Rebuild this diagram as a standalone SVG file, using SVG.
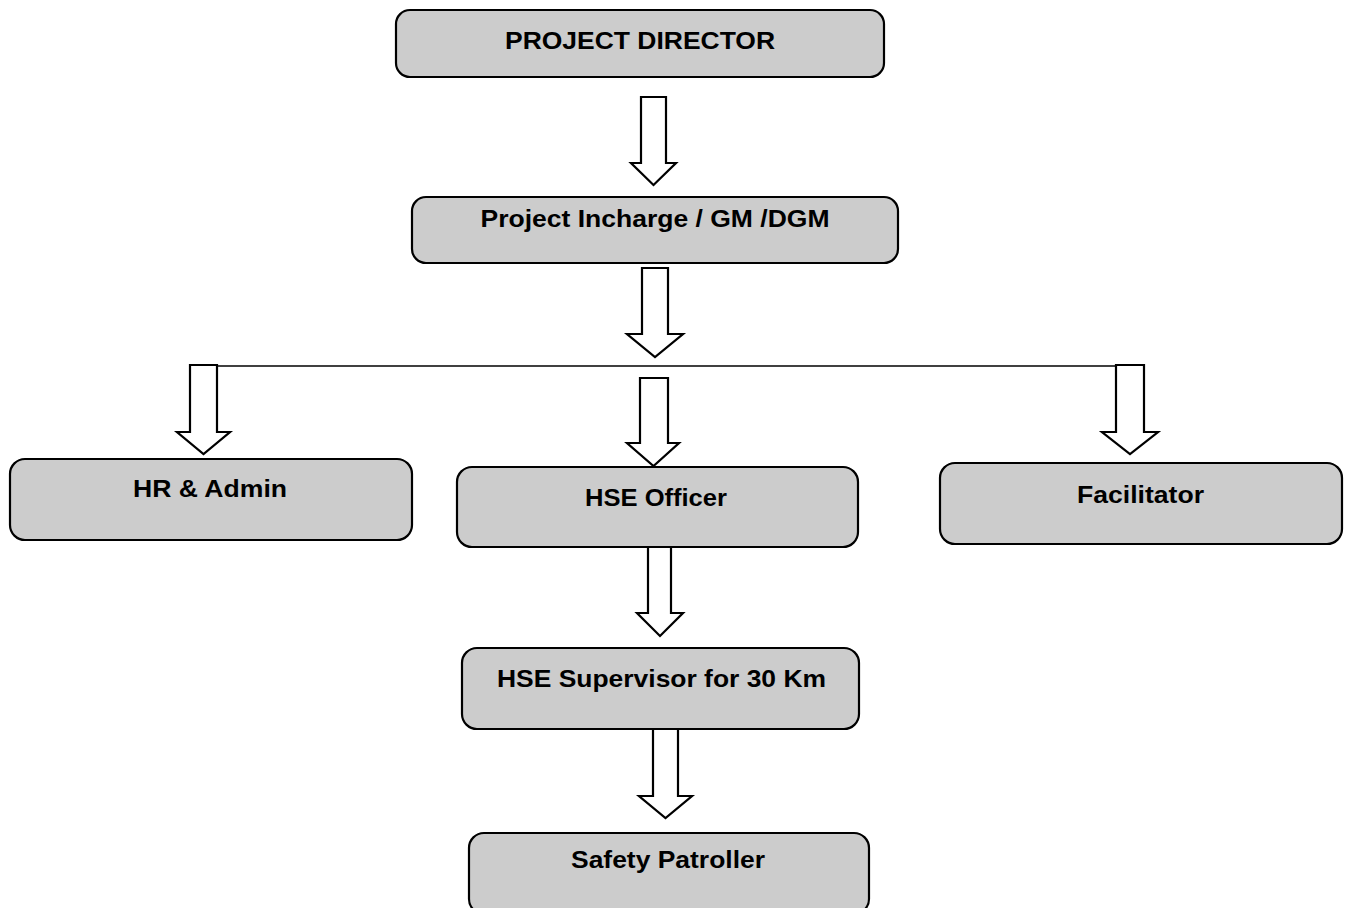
<svg xmlns="http://www.w3.org/2000/svg" width="1348" height="908" viewBox="0 0 1348 908">
<style>
.box{fill:#cccccc;stroke:#000;stroke-width:2.2}
.lbl{font-family:"Liberation Sans",Arial,sans-serif;font-weight:bold;font-size:23px;fill:#000;text-anchor:middle}
.arr{fill:#fff;stroke:#000;stroke-width:2.2;stroke-linejoin:miter}
.ln{stroke:#000;stroke-width:1.6;fill:none}
</style>
<rect width="1348" height="908" fill="#fff"/>
<g id="connectors">
<path class="arr" d="M641,97 H666 V163 H676 L653.5,185 L631,163 H641 Z"/>
<path class="arr" d="M642,268 H668 V334 H683 L655,357 L627,334 H642 Z"/>
<line class="ln" x1="217" y1="366" x2="1116" y2="366"/>
<path class="arr" d="M190,365 H217 V432 H230 L203.5,454 L177,432 H190 Z"/>
<path class="arr" d="M640,378 H668 V443 H679 L653.5,466 L627,443 H640 Z"/>
<path class="arr" d="M1116,365 H1144 V432 H1158 L1130,454 L1102,432 H1116 Z"/>
<path class="arr" d="M648,547 H671 V613 H683 L660,636 L637,613 H648 Z"/>
<path class="arr" d="M653,729 H678 V796 H692 L665.5,818 L639,796 H653 Z"/>
</g>
<g id="project-director">
<rect class="box" x="396" y="10" width="488" height="67" rx="14"/>
<text class="lbl" x="640" y="49" textLength="270" lengthAdjust="spacingAndGlyphs">PROJECT DIRECTOR</text>
</g>
<g id="project-incharge">
<rect class="box" x="412" y="197" width="486" height="66" rx="14"/>
<text class="lbl" x="655" y="227" textLength="349" lengthAdjust="spacingAndGlyphs">Project Incharge / GM /DGM</text>
</g>
<g id="hr-admin">
<rect class="box" x="10" y="459" width="402" height="81" rx="15"/>
<text class="lbl" x="210" y="497" textLength="154" lengthAdjust="spacingAndGlyphs">HR &amp; Admin</text>
</g>
<g id="hse-officer">
<rect class="box" x="457" y="467" width="401" height="80" rx="15"/>
<text class="lbl" x="656" y="506" textLength="142" lengthAdjust="spacingAndGlyphs">HSE Officer</text>
</g>
<g id="facilitator">
<rect class="box" x="940" y="463" width="402" height="81" rx="15"/>
<text class="lbl" x="1140.5" y="503" textLength="127" lengthAdjust="spacingAndGlyphs">Facilitator</text>
</g>
<g id="hse-supervisor">
<rect class="box" x="462" y="648" width="397" height="81" rx="15"/>
<text class="lbl" x="661.5" y="687" textLength="329" lengthAdjust="spacingAndGlyphs">HSE Supervisor for 30 Km</text>
</g>
<g id="safety-patroller">
<rect class="box" x="469" y="833" width="400" height="81" rx="15"/>
<text class="lbl" x="668" y="868" textLength="194" lengthAdjust="spacingAndGlyphs">Safety Patroller</text>
</g>
</svg>
